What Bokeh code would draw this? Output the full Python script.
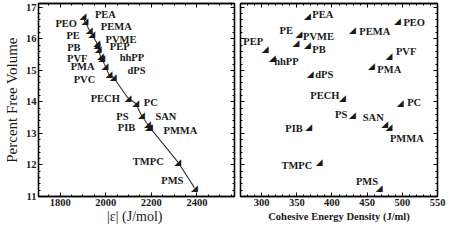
from bokeh.plotting import figure
from bokeh.layouts import row
from bokeh.models import ColumnDataSource, FixedTicker, LinearAxis, Range1d, CustomJSTickFormatter
from bokeh.core.properties import value, field
from bokeh.embed import file_html
from bokeh.resources import INLINE

# ---- data ----
names = ["PEA", "PEO", "PEMA", "PE", "PVME", "PB", "PEP", "PVF", "hhPP", "PMA",
         "dPS", "PVC", "PECH", "PC", "PS", "SAN", "PMMA", "PIB", "TMPC", "PMS"]
free_volume = [16.72, 16.55, 16.28, 16.15, 15.88, 15.80, 15.68, 15.45, 15.39, 15.15,
               14.87, 14.78, 14.13, 13.95, 13.57, 13.30, 13.20, 13.20, 12.10, 11.28]
epsilon = [1900, 1909, 1928, 1939, 1960, 1962, 1967, 1977, 1982, 1997,
           2014, 2033, 2097, 2132, 2157, 2183, 2192, 2187, 2316, 2389]

ced_names = ["PEA", "PEO", "PEMA", "PE", "PVME", "PB", "PEP", "PVF", "hhPP", "PMA",
             "dPS", "PECH", "PC", "PS", "SAN", "PMMA", "PIB", "TMPC", "PMS"]
ced = [365, 493, 429, 353, 349, 365, 305, 481, 315, 456,
       369, 415, 497, 429, 475, 481, 367, 382, 467]

y_ticks = [11, 12, 13, 14, 15, 16, 17]
eps_ticks = [1800, 2000, 2200, 2400]
ced_ticks = [300, 350, 400, 450, 500, 550]

# ---- label placement (screen px offsets, alignment) ----
left_place = {
    "PEA": (12, -1.5, "left"), "PEO": (-8, 2, "right"), "PEMA": (11.5, -3, "left"),
    "PE": (-12, 1.5, "right"), "PVME": (9, -3.5, "left"), "PB": (-16.5, 2, "right"),
    "PEP": (11.5, -2, "left"), "PVF": (-13, 2, "right"), "hhPP": (18, -1, "left"),
    "PMA": (-10.5, 1, "right"), "dPS": (18.5, -4, "left"), "PVC": (-18, 2, "right"),
    "PECH": (-8, 1, "right"), "PC": (8, -1, "left"), "PS": (-13, 1.5, "right"),
    "SAN": (8, -7, "left"), "PMMA": (14, 3, "left"), "PIB": (-13, 0, "right"),
    "TMPC": (-14, 0, "right"), "PMS": (-11, -7, "right"),
}
right_place = {
    "PEA": (5, -2, "left"), "PE": (-6, -4, "right"), "PVME": (7, -6, "left"),
    "PB": (5, 4, "left"), "PEP": (-2, -7, "right"), "hhPP": (2, 3, "left"),
    "dPS": (5, 0, "left"), "PEO": (6, 1, "left"), "PEMA": (7, 2, "left"),
    "PVF": (7, -5, "left"), "PMA": (6, 4, "left"), "PC": (7, -1, "left"),
    "PECH": (-3, -2, "right"), "PS": (-5, -1, "right"), "SAN": (-1, -6, "right"),
    "PMMA": (1, 11, "left"), "PIB": (-6, 1, "right"), "TMPC": (-7, 4, "right"),
    "PMS": (-1, -6, "right"),
}

SERIF = "Liberation Serif"
INK = "#1a1a1a"
fv_of = dict(zip(names, free_volume))
BLANK = CustomJSTickFormatter(code="return '';")


def style_axis(ax, labels=True, size="10.5px"):
    ax.major_tick_in = 4
    ax.major_tick_out = 0
    ax.minor_tick_in = 2
    ax.minor_tick_out = 0
    ax.axis_line_color = "black"
    ax.major_tick_line_color = "black"
    ax.minor_tick_line_color = "black"
    ax.axis_line_width = 1.3
    if labels:
        ax.major_label_text_font = SERIF
        ax.major_label_text_font_size = size
        ax.major_label_text_font_style = "bold"
        ax.major_label_text_color = INK
        ax.major_label_standoff = 2
    else:
        ax.formatter = BLANK
        ax.major_label_standoff = 0


def make_fig(width, xr, mbl, mbr, xt, xminor, ylabels=True):
    p = figure(width=width, height=226, x_range=Range1d(*xr), y_range=Range1d(11, 17.12),
               output_backend="svg", toolbar_location=None, x_axis_location=None,
               y_axis_location=None,
               min_border_left=mbl, min_border_right=mbr, min_border_top=3, min_border_bottom=28)
    p.grid.visible = False
    p.outline_line_color = "black"
    p.outline_line_width = 1.3
    p.background_fill_color = "white"
    p.border_fill_color = "white"
    xtick = FixedTicker(ticks=xt, minor_ticks=xminor)
    ytick = FixedTicker(ticks=y_ticks, minor_ticks=[11 + 0.2 * i for i in range(31)])
    bottom = LinearAxis(ticker=xtick)
    style_axis(bottom)
    p.add_layout(bottom, "below")
    left = LinearAxis(ticker=ytick)
    style_axis(left, labels=ylabels)
    p.add_layout(left, "left")
    top = LinearAxis(ticker=xtick)
    style_axis(top, labels=False)
    p.add_layout(top, "above")
    rgt = LinearAxis(ticker=ytick)
    style_axis(rgt, labels=False)
    p.add_layout(rgt, "right")
    return p, bottom, left


# ---- left panel ----
p1, b1, l1 = make_fig(236, (1705, 2565), 34, 2, eps_ticks, list(range(1700, 2600, 50)))
l1.axis_label = "Percent Free Volume"
l1.axis_label_text_font = SERIF
l1.axis_label_text_font_style = "normal"
l1.axis_label_text_font_size = "15px"
l1.axis_label_text_color = INK
l1.axis_label_standoff = 3
b1.axis_label = "|ε|  (J/mol)"
b1.axis_label_text_font = SERIF
b1.axis_label_text_font_style = "normal"
b1.axis_label_text_font_size = "14px"
b1.axis_label_text_color = INK
b1.axis_label_standoff = 0

order = sorted(range(len(names)), key=lambda i: epsilon[i])
line_src = ColumnDataSource(dict(x=[epsilon[i] for i in order], y=[free_volume[i] for i in order]))
p1.line("x", "y", source=line_src, line_color="#333333", line_width=1.1)

src1 = ColumnDataSource(dict(
    x=epsilon, y=free_volume, name=names, mk=["◢"] * len(names),
    dx=[left_place[n][0] for n in names], dy=[left_place[n][1] for n in names],
    al=[left_place[n][2] for n in names]))
p1.text("x", "y", text="mk", source=src1, text_font=value("DejaVu Sans"),
        text_font_size="9px", text_align="center", text_baseline="middle", text_color=INK)
p1.text("x", "y", text="name", source=src1, x_offset="dx", y_offset="dy", text_align=field("al"),
        text_baseline="middle", text_font=value(SERIF), text_font_size="10.5px",
        text_font_style="bold", text_color=INK)

# ---- right panel ----
p2, b2, l2 = make_fig(210, (270, 550), 4, 9, ced_ticks, list(range(270, 551, 10)), ylabels=False)
b2.axis_label = "Cohesive Energy Density (J/ml)"
b2.axis_label_text_font = SERIF
b2.axis_label_text_font_style = "bold"
b2.axis_label_text_font_size = "10.5px"
b2.axis_label_text_color = INK
b2.axis_label_standoff = 2

src2 = ColumnDataSource(dict(
    x=ced, y=[fv_of[n] for n in ced_names], name=ced_names, mk=["◢"] * len(ced_names),
    dx=[right_place[n][0] for n in ced_names], dy=[right_place[n][1] for n in ced_names],
    al=[right_place[n][2] for n in ced_names]))
p2.text("x", "y", text="mk", source=src2, text_font=value("DejaVu Sans"),
        text_font_size="9px", text_align="center", text_baseline="middle", text_color=INK)
p2.text("x", "y", text="name", source=src2, x_offset="dx", y_offset="dy", text_align=field("al"),
        text_baseline="middle", text_font=value(SERIF), text_font_size="10.5px",
        text_font_style="bold", text_color=INK)

layout = row(p1, p2)
open("out.html", "w").write(file_html(layout, INLINE))
